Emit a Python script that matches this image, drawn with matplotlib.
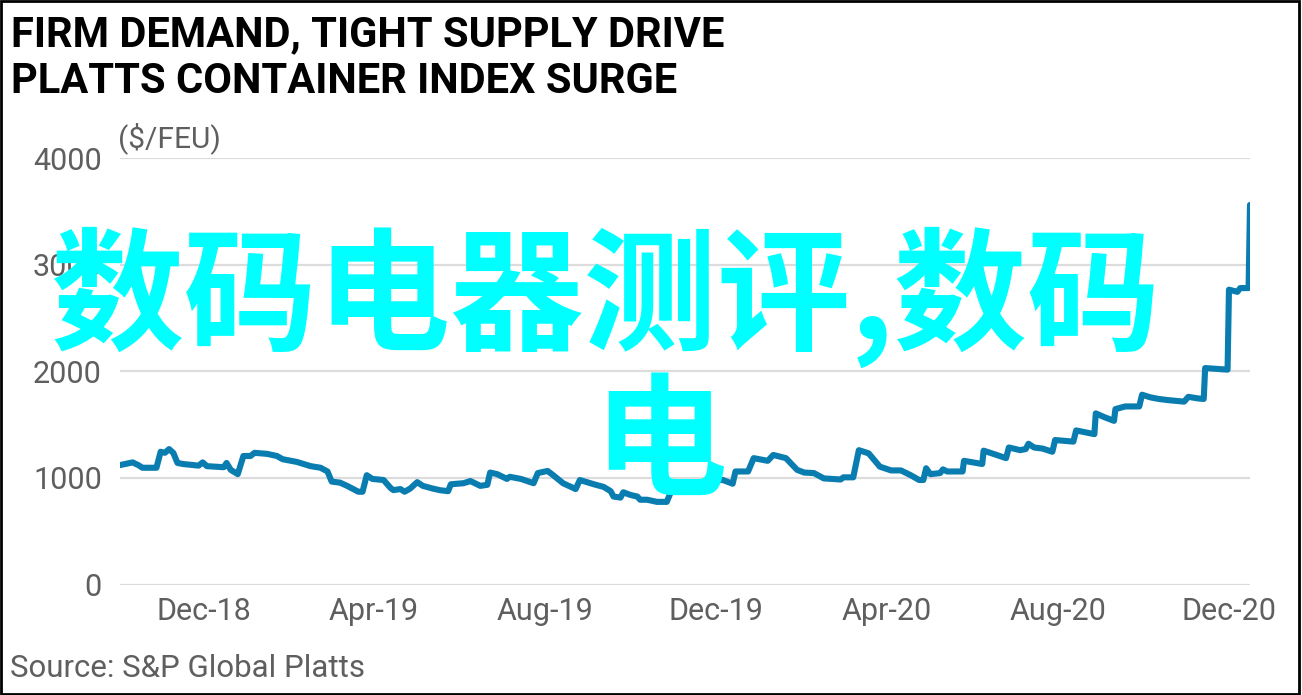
import matplotlib
matplotlib.use("Agg")
import matplotlib.pyplot as plt
import matplotlib.dates as mdates
from matplotlib.patches import Rectangle
import pandas as pd

# ------------------------------------------------------------------ #
#  Data
# ------------------------------------------------------------------ #

TITLE_LINES = ["FIRM DEMAND, TIGHT SUPPLY DRIVE", "PLATTS CONTAINER INDEX SURGE"]
UNIT_LABEL = "($/FEU)"
SOURCE = "Source: S&P Global Platts"
OVERLAY_LINES = ["数码电器测评,数码", "电"]
Y_TICKS = [0, 1000, 2000, 3000, 4000]

dates = [
    "2018-10-02", "2018-10-11", "2018-10-15", "2018-10-18", "2018-10-28",
    "2018-10-31", "2018-11-03", "2018-11-06", "2018-11-09", "2018-11-12",
    "2018-11-16", "2018-11-27", "2018-11-30", "2018-12-03", "2018-12-15",
    "2018-12-17", "2018-12-20", "2018-12-25", "2018-12-29", "2019-01-03",
    "2019-01-06", "2019-01-15", "2019-01-22", "2019-01-26", "2019-02-05",
    "2019-02-15", "2019-02-22", "2019-02-27", "2019-03-02", "2019-03-08",
    "2019-03-13", "2019-03-21", "2019-03-24", "2019-03-27", "2019-03-31",
    "2019-04-08", "2019-04-13", "2019-04-15", "2019-04-20", "2019-04-23",
    "2019-04-27", "2019-05-02", "2019-05-06", "2019-05-13", "2019-05-18",
    "2019-05-24", "2019-05-26", "2019-06-04", "2019-06-09", "2019-06-16",
    "2019-06-21", "2019-06-23", "2019-06-28", "2019-07-05", "2019-07-07",
    "2019-07-15", "2019-07-24", "2019-07-27", "2019-08-03", "2019-08-07",
    "2019-08-14", "2019-08-23", "2019-08-26", "2019-09-05", "2019-09-12",
    "2019-09-17", "2019-09-19", "2019-09-24", "2019-09-26", "2019-10-01",
    "2019-10-06", "2019-10-08", "2019-10-13", "2019-10-20", "2019-10-27",
    "2019-10-30", "2019-11-13", "2019-11-27", "2019-12-01", "2019-12-06",
    "2019-12-13", "2019-12-15", "2019-12-24", "2019-12-28", "2020-01-07",
    "2020-01-11", "2020-01-20", "2020-01-28", "2020-02-02", "2020-02-09",
    "2020-02-16", "2020-02-28", "2020-03-01", "2020-03-08", "2020-03-12",
    "2020-03-19", "2020-03-27", "2020-04-04", "2020-04-11", "2020-04-18",
    "2020-04-24", "2020-04-27", "2020-04-29", "2020-05-02", "2020-05-09",
    "2020-05-11", "2020-05-14", "2020-05-25", "2020-05-26", "2020-06-08",
    "2020-06-09", "2020-06-16", "2020-06-25", "2020-06-27", "2020-07-05",
    "2020-07-09", "2020-07-11", "2020-07-15", "2020-07-21", "2020-07-28",
    "2020-07-30", "2020-08-12", "2020-08-14", "2020-08-27", "2020-08-28",
    "2020-09-03", "2020-09-10", "2020-09-11", "2020-09-18", "2020-09-28",
    "2020-09-30", "2020-10-06", "2020-10-12", "2020-10-18", "2020-10-30",
    "2020-11-02", "2020-11-09", "2020-11-13", "2020-11-14", "2020-11-30",
    "2020-12-01", "2020-12-07", "2020-12-09", "2020-12-15", "2020-12-16",
]

values = [
    1120, 1145, 1120, 1095, 1095,
    1245, 1235, 1270, 1235, 1140,
    1130, 1115, 1145, 1110, 1100,
    1140, 1075, 1035, 1205, 1205,
    1235, 1225, 1205, 1175, 1150,
    1110, 1095, 1060, 965, 955,
    925, 870, 870, 1025, 990,
    980, 905, 885, 895, 870,
    900, 960, 925, 900, 885,
    875, 940, 950, 970, 925,
    935, 1050, 1035, 990, 1010,
    990, 950, 1045, 1065, 1025,
    950, 895, 980, 940, 915,
    875, 825, 815, 865, 840,
    825, 795, 795, 775, 775,
    870, 885, 885, 980, 980,
    945, 1060, 1060, 1185, 1160,
    1215, 1185, 1075, 1050, 1045,
    995, 985, 1005, 1005, 1260,
    1230, 1105, 1070, 1070, 1025,
    980, 980, 1090, 1035, 1045,
    1080, 1060, 1060, 1160, 1130,
    1255, 1225, 1185, 1285, 1260,
    1270, 1320, 1285, 1275, 1245,
    1355, 1340, 1445, 1410, 1605,
    1570, 1535, 1645, 1670, 1670,
    1780, 1755, 1740, 1730, 1715,
    1760, 1745, 1740, 2030, 2015,
    2765, 2745, 2780, 2780, 3560,
]

# ------------------------------------------------------------------ #
#  Plot
# ------------------------------------------------------------------ #

LINE_COLOR = "#0a7db0"
GRID_COLOR = "#dcdcdc"
TEXT_GRAY = "#5f5f5f"
FONT = ["Roboto", "DejaVu Sans"]

plt.rcParams["font.family"] = FONT

x = pd.to_datetime(dates)

fig = plt.figure(figsize=(13.02, 6.95), dpi=100)
ax = fig.add_axes([120 / 1302, 1 - 584.5 / 695, 1130 / 1302, 426.5 / 695])

ax.plot(x, values, color=LINE_COLOR, lw=4.4, solid_capstyle="round",
        solid_joinstyle="round", zorder=3)

ax.set_ylim(0, 4000)
ax.set_xlim(x[0], x[-1])
ax.set_yticks(Y_TICKS)
ax.xaxis.set_major_locator(mdates.MonthLocator(bymonth=[4, 8, 12]))
ax.xaxis.set_major_formatter(mdates.DateFormatter("%b-%y"))

ax.grid(axis="y", color=GRID_COLOR, lw=1.6, zorder=0)
ax.grid(axis="x", visible=False)
for side in ax.spines.values():
    side.set_visible(False)
ax.tick_params(axis="both", length=0, labelsize=22, labelcolor=TEXT_GRAY)
ax.tick_params(axis="y", pad=13)
ax.tick_params(axis="x", pad=9)

# titles and notes
fig.text(11 / 1302, 1 - 46 / 695, TITLE_LINES[0], fontsize=30, fontweight="bold",
         color="black", va="baseline")
fig.text(11 / 1302, 1 - 93 / 695, TITLE_LINES[1], fontsize=30, fontweight="bold",
         color="black", va="baseline")
fig.text(118 / 1302, 1 - 147 / 695, UNIT_LABEL, fontsize=21.5, color=TEXT_GRAY,
         va="baseline")
fig.text(10 / 1302, 1 - 677 / 695, SOURCE, fontsize=22.5, color=TEXT_GRAY,
         va="baseline")

# cyan overlay text
cjk = ["Noto Sans CJK SC", "DejaVu Sans"]
fig.text(605 / 1302, 1 - 298 / 695, OVERLAY_LINES[0], fontsize=96, fontweight="bold",
         color="#00ffff", ha="center", va="center", family=cjk, zorder=10)
fig.text(660 / 1302, 1 - 446 / 695, OVERLAY_LINES[1], fontsize=96, fontweight="bold",
         color="#00ffff", ha="center", va="center", family=cjk, zorder=10)

# frame around the whole picture
fig.patches.append(Rectangle((0.001, 0.002), 0.997, 0.996, transform=fig.transFigure,
                             fill=False, edgecolor="black", lw=2))

fig.savefig("out.png", dpi=100)
